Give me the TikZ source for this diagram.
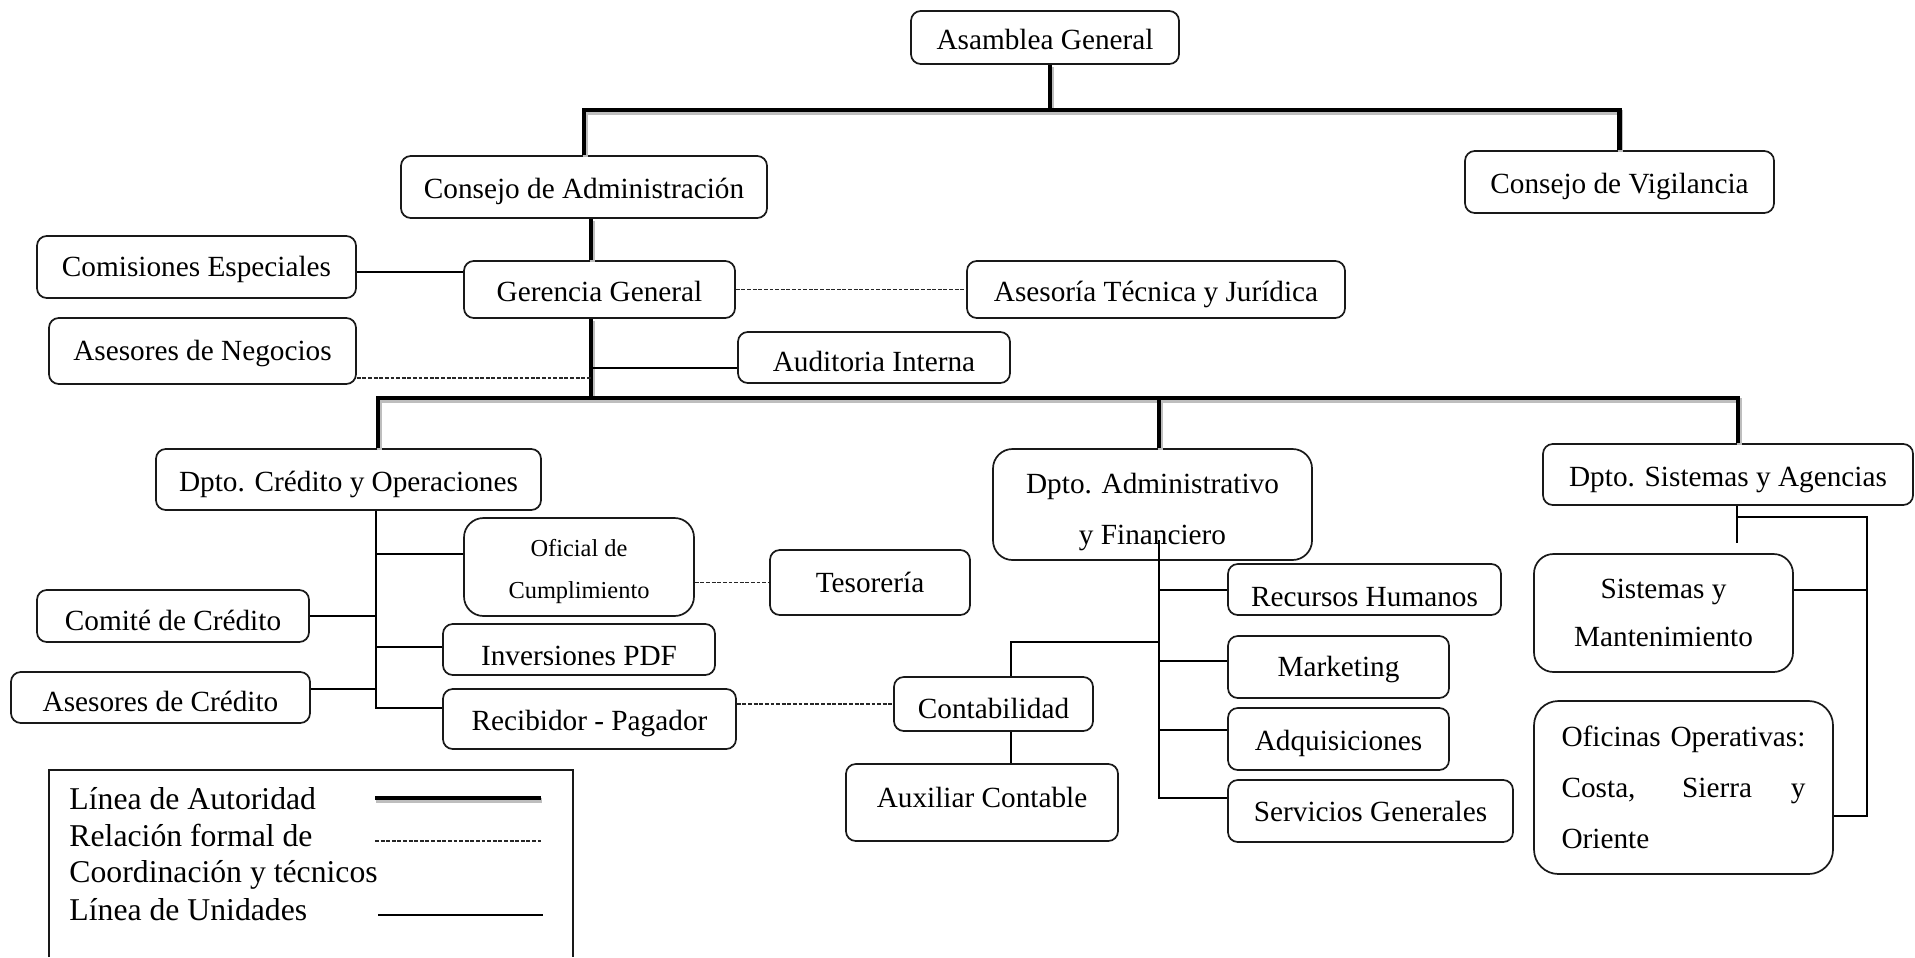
\documentclass[tikz,border=0pt]{standalone}
\usepackage{fontspec}
\setmainfont{Liberation Serif}
\usepackage{tikz}
\usetikzlibrary{calc}
\definecolor{boxline}{RGB}{25,25,25}
\definecolor{shade}{RGB}{190,190,190}

\begin{document}
\begin{tikzpicture}[x=0.41pt,y=-0.41pt,
  unidad/.style={draw=black,line width=0.9pt},
  autoridad/.style={draw=black,line width=2pt,
    preaction={draw=shade,line width=2.2pt,transform canvas={xshift=0.5pt,yshift=-0.9pt}}},
  formal/.style={draw=black!85,line width=0.45pt,dash pattern=on 1.6pt off 0.7pt},
  frame/.style={draw=boxline,line width=0.7pt,rounded corners=4pt,fill=white,inner sep=0pt,align=center,font=\fontsize{12}{21}\selectfont},
  box/.style={frame,text height=9.5pt,text depth=0pt},
  bigbox/.style={frame,rounded corners=8pt},
  boxsize/.style 2 args={minimum width=#1*0.41pt,minimum height=#2*0.41pt},
  leyenda/.style={anchor=base west,inner sep=0pt,font=\fontsize{13}{15}\selectfont}]
\useasboundingbox (0,0) rectangle (1915,957);

\node[box,boxsize={268}{53}] (ag) at (1045,37.5) {Asamblea General};
\node[box,boxsize={366}{62}] (ca) at (584,187) {Consejo de Administración};
\node[box,boxsize={309}{62}] (cv) at (1619.5,182) {Consejo de Vigilancia};
\node[box,boxsize={271}{57}] (gg) at (599.5,289.5) {Gerencia General};
\node[box,boxsize={319}{62},text height=7.8pt] (ce) at (196.5,267) {Comisiones Especiales};
\node[box,boxsize={307}{66},text height=7.8pt] (an) at (202.5,351) {Asesores de Negocios};
\node[box,boxsize={378}{57}] (atj) at (1156,289.5) {Asesoría Técnica y Jurídica};
\node[box,boxsize={272}{51},text height=11.2pt] (ai) at (874,357.5) {Auditoria Interna};
\node[box,boxsize={385}{61}] (dco) at (348.5,479.5) {Dpto. Crédito y Operaciones};
\node[bigbox,boxsize={319}{111}] (daf) at (1152.5,504.5) {\rule{0pt}{14.2pt}Dpto. Administrativo\\y Financiero};
\node[box,boxsize={370}{61}] (dsa) at (1728,474.5) {Dpto. Sistemas y Agencias};
\node[bigbox,boxsize={230}{98},font=\fontsize{10}{17}\selectfont] (oc) at (579,567) {\rule{0pt}{10.8pt}Oficial de\\Cumplimiento};
\node[box,boxsize={200}{65},text height=8.2pt] (tes) at (870,582.5) {Tesorería};
\node[box,boxsize={272}{52},text height=12.2pt] (cdc) at (173,616) {Comité de Crédito};
\node[box,boxsize={272}{51},text height=13.2pt] (ipdf) at (579,649.5) {Inversiones PDF};
\node[box,boxsize={299}{51},text height=11.2pt] (adc) at (160.5,697.5) {Asesores de Crédito};
\node[box,boxsize={293}{60}] (rp) at (589.5,719) {Recibidor - Pagador};
\node[box,boxsize={199}{54},text height=12.2pt] (cont) at (993.5,704) {Contabilidad};
\node[box,boxsize={272}{77},text height=4.2pt] (aux) at (982,802.5) {Auxiliar Contable};
\node[box,boxsize={273}{51},text height=14.2pt] (rh) at (1364.5,589.5) {Recursos Humanos};
\node[box,boxsize={221}{62},text height=7.8pt] (mk) at (1338.5,667) {Marketing};
\node[box,boxsize={221}{62}] (adq) at (1338.5,739) {Adquisiciones};
\node[box,boxsize={285}{62},text height=8.2pt] (sg) at (1370.5,811) {Servicios Generales};
\node[bigbox,boxsize={259}{118},font=\fontsize{12}{20}\selectfont] (sm) at (1663.5,613) {Sistemas y\\Mantenimiento};
\node[bigbox,boxsize={299}{173},rounded corners=10pt] (oo) at (1683.5,787.5)
  {\parbox{100pt}{\hyphenpenalty=10000 Oficinas Operativas: Costa, Sierra y Oriente}};

\coordinate (b1) at (1050,110);
\coordinate (b2l) at (378,398);
\coordinate (b2m) at (1159,398);
\coordinate (b2r) at (1738,398);
\coordinate (sp) at (591,398);
\draw[autoridad] (ag.south -| b1) -- (b1);
\draw[autoridad] (ca.north) -- (ca.north |- b1) -- (cv.north |- b1) -- (cv.north);
\draw[autoridad] (ca.south -| sp) -- (gg.north -| sp);
\draw[autoridad] (gg.south -| sp) -- (sp);
\draw[autoridad] (dco.north -| b2l) -- (b2l) -- (b2r) -- (dsa.north -| b2r);
\draw[autoridad] (b2m) -- (daf.north -| b2m);

\coordinate (jce) at (464,272);
\coordinate (jai) at (591,368);
\coordinate (jan) at (591,378);
\draw[unidad] (jce -| ce.east) -- (jce -| gg.west);
\draw[unidad] (jai) -- (jai -| ai.west);
\draw[formal] (jan -| an.east) -- (jan);
\draw[formal] (gg.east) -- (gg.east -| atj.west);

\coordinate (joc) at (376,554);
\coordinate (jcdc) at (376,616);
\coordinate (jip) at (376,647);
\coordinate (jadc) at (376,689);
\coordinate (jrp) at (376,708);
\draw[unidad] (dco.south -| jrp) -- (jrp) -- (jrp -| rp.west);
\draw[unidad] (joc) -- (joc -| oc.west);
\draw[unidad] (jcdc) -- (jcdc -| cdc.east);
\draw[unidad] (jip) -- (jip -| ipdf.west);
\draw[unidad] (jadc) -- (jadc -| adc.east);
\draw[formal] (oc.east |- tes.west) -- (tes.west);
\draw[formal] (rp.east |- cont.west) -- (cont.west);

\coordinate (atop) at (1159,540);
\coordinate (arh) at (1159,590);
\coordinate (act) at (1159,642);
\coordinate (amk) at (1159,661);
\coordinate (aadq) at (1159,730);
\coordinate (asg) at (1159,798);
\coordinate (cct) at (1011,642);
\draw[unidad] (atop) -- (asg) -- (asg -| sg.west);
\draw[unidad] (arh) -- (arh -| rh.west);
\draw[unidad] (amk) -- (amk -| mk.west);
\draw[unidad] (aadq) -- (aadq -| adq.west);
\draw[unidad] (act) -- (cct) -- (cct |- cont.north);
\draw[unidad] (cct |- cont.south) -- (cct |- aux.north);

\coordinate (sj) at (1737,517);
\coordinate (sstub) at (1737,543);
\coordinate (sr) at (1867,517);
\coordinate (ssm) at (1867,590);
\coordinate (soo) at (1867,816);
\draw[unidad] (dsa.south -| sj) -- (sstub);
\draw[unidad] (sj) -- (sr) -- (soo) -- (soo -| oo.east);
\draw[unidad] (ssm) -- (ssm -| sm.east);

\draw[line width=0.7pt,boxline] (49,957) -- (49,770) -- (573,770) -- (573,957);
\node[leyenda] (l1) at (69,809) {Línea de Autoridad};
\node[leyenda] (l2) at (69,846) {Relación formal de};
\node[leyenda] (l3) at (69,882) {Coordinación y técnicos};
\node[leyenda] (l4) at (69,920) {Línea de Unidades};
\draw[autoridad] (375,798) -- (541,798);
\draw[formal] (375,841) -- (541,841);
\draw[unidad] (378,915) -- (543,915);
\end{tikzpicture}
\end{document}
